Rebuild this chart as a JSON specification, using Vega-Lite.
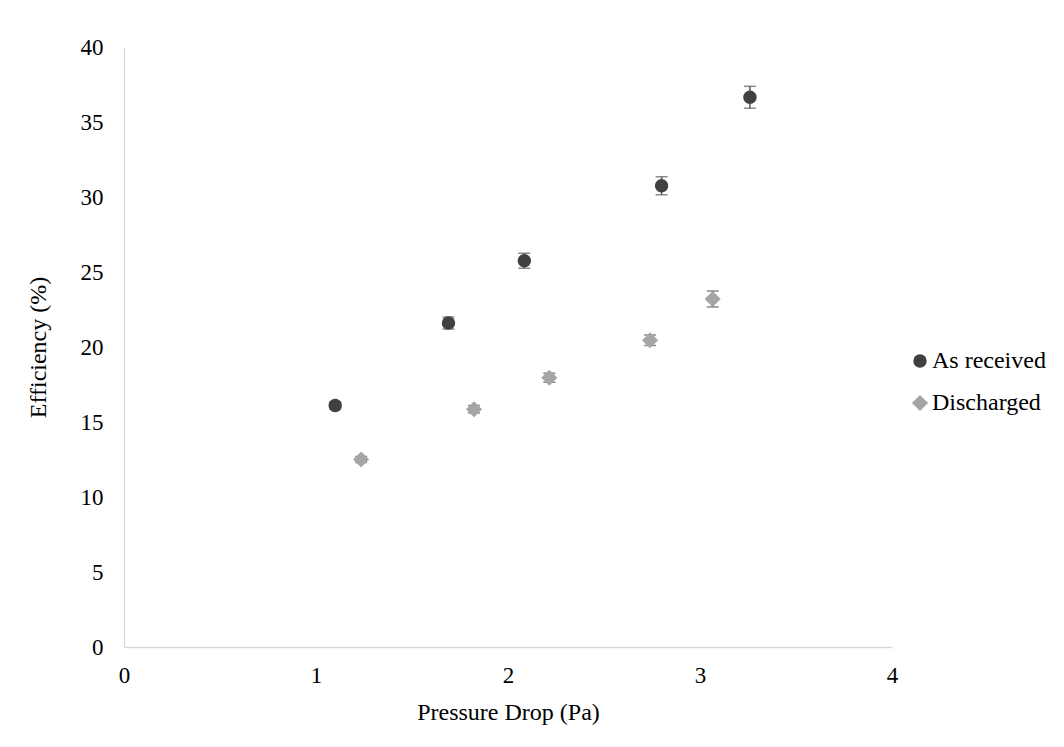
{
  "$schema": "https://vega.github.io/schema/vega-lite/v6.json",
  "autosize": {"type": "none"},
  "width": 768,
  "height": 600,
  "padding": {"left": 124, "top": 47, "right": 172, "bottom": 100},
  "background": "white",
  "config": {
    "font": "Liberation Serif",
    "view": {"stroke": null},
    "axis": {
      "grid": false,
      "ticks": false,
      "tickSize": 0,
      "labelFlush": false,
      "labelOverlap": false,
      "domainColor": "#d9d9d9",
      "domainWidth": 1.3,
      "labelFont": "Liberation Serif",
      "labelFontSize": 23,
      "labelColor": "#000000",
      "titleFont": "Liberation Serif",
      "titleFontSize": 24,
      "titleFontWeight": "normal",
      "titleColor": "#000000"
    },
    "legend": {
      "labelFont": "Liberation Serif",
      "labelFontSize": 24,
      "labelColor": "#000000"
    }
  },
  "data": {
    "values": [
      {"series": "As received", "pressure": 1.10, "efficiency": 16.1, "err": 0.25},
      {"series": "As received", "pressure": 1.69, "efficiency": 21.6, "err": 0.4},
      {"series": "As received", "pressure": 2.085, "efficiency": 25.75, "err": 0.5},
      {"series": "As received", "pressure": 2.80, "efficiency": 30.75, "err": 0.6},
      {"series": "As received", "pressure": 3.26, "efficiency": 36.65, "err": 0.73},
      {"series": "Discharged", "pressure": 1.235, "efficiency": 12.5, "err": 0.2},
      {"series": "Discharged", "pressure": 1.823, "efficiency": 15.85, "err": 0.25},
      {"series": "Discharged", "pressure": 2.215, "efficiency": 17.95, "err": 0.3},
      {"series": "Discharged", "pressure": 2.74, "efficiency": 20.45, "err": 0.35},
      {"series": "Discharged", "pressure": 3.066, "efficiency": 23.2, "err": 0.53}
    ]
  },
  "encoding": {
    "x": {
      "field": "pressure",
      "type": "quantitative",
      "scale": {"domain": [0, 4], "nice": false},
      "axis": {"values": [0, 1, 2, 3, 4], "format": "d", "title": "Pressure Drop (Pa)", "labelPadding": 17, "titlePadding": 13}
    },
    "y": {
      "field": "efficiency",
      "type": "quantitative",
      "scale": {"domain": [0, 40], "nice": false},
      "axis": {"values": [0, 5, 10, 15, 20, 25, 30, 35, 40], "format": "d", "title": "Efficiency (%)", "labelPadding": 21, "titlePadding": 30}
    }
  },
  "layer": [
    {
      "mark": {"type": "errorbar", "ticks": {"size": 12, "thickness": 1.5}, "thickness": 1.5},
      "encoding": {
        "yError": {"field": "err"},
        "color": {"value": "#595959"}
      }
    },
    {
      "mark": {"type": "point", "filled": true, "opacity": 1},
      "encoding": {
        "color": {
          "field": "series",
          "type": "nominal",
          "scale": {"domain": ["As received", "Discharged"], "range": ["#404040", "#a5a5a5"]},
          "legend": {"title": null, "orient": "none", "legendX": 784, "legendY": 302, "rowPadding": 18, "symbolSize": 160, "labelOffset": 0}
        },
        "shape": {
          "field": "series",
          "type": "nominal",
          "scale": {"domain": ["As received", "Discharged"], "range": ["circle", "diamond"]}
        },
        "size": {
          "field": "series",
          "type": "nominal",
          "scale": {"domain": ["As received", "Discharged"], "range": [180, 260]},
          "legend": null
        }
      }
    }
  ]
}
